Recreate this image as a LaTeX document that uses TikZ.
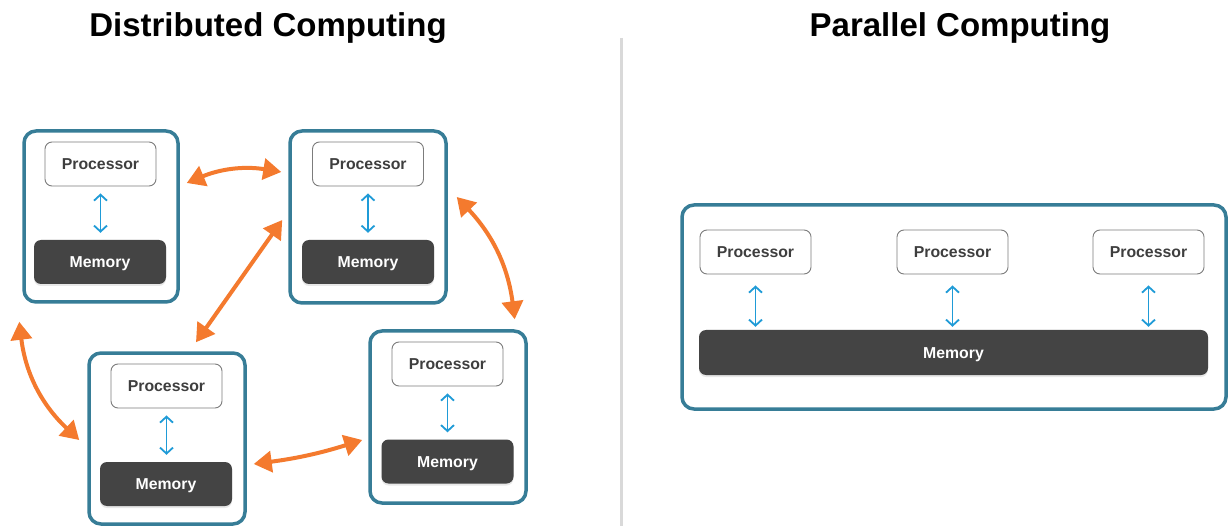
\documentclass[tikz,border=0pt]{standalone}
\usepackage{fontspec}
\setmainfont{Liberation Sans}
\usetikzlibrary{arrows.meta,calc,shadows}
\definecolor{frame}{HTML}{377D97}
\definecolor{procline}{HTML}{7C7C7C}
\definecolor{proctext}{HTML}{3E3E3E}
\definecolor{memfill}{HTML}{444444}
\definecolor{linkblue}{HTML}{1F9BD7}
\definecolor{netorange}{HTML}{F47A2E}
\definecolor{rule}{HTML}{D9D9D9}
\begin{document}
\begin{tikzpicture}[x=1pt,y=-1pt,
  unit/.style={draw=frame, line width=3.5pt, rounded corners=12pt, fill=white, inner sep=0},
  proc/.style={draw=procline, line width=0.9pt, rounded corners=7pt, fill=white,
    minimum width=111pt, minimum height=44pt, inner sep=0,
    text height=11pt, text depth=0pt,
    font=\bfseries\fontsize{15.8}{18}\selectfont, text=proctext},
  mem/.style={fill=memfill, rounded corners=7pt, minimum width=132pt, minimum height=44pt,
    inner sep=0, text=white, text height=11pt, text depth=0pt,
    font=\bfseries\fontsize{15.8}{18}\selectfont,
    drop shadow={opacity=0.18, shadow xshift=0pt, shadow yshift=-2pt}},
  link/.style={draw=linkblue, line width=1.8pt,
    {Straight Barb[length=6pt,width=13pt]}-{Straight Barb[length=6pt,width=13pt]}},
  net/.style={draw=netorange, line width=4pt,
    {Triangle[length=18pt,width=21pt]}-{Triangle[length=18pt,width=21pt]}},
  title/.style={font=\bfseries\fontsize{33}{38}\selectfont, text=black, anchor=base}]
\useasboundingbox (0,0) rectangle (1228,526);
\fill[white] (0,0) rectangle (1228,526);

% headings and separator
\node[title] (t1) at (268,37) {Distributed Computing};
\node[title] (t2) at (960,37) {Parallel Computing};
\draw[rule, line width=3pt] (621,38) -- (621,526);

% distributed: four independent machines
\node[unit, minimum width=154pt, minimum height=171pt] (A) at (101,216.5) {};
\node[unit, minimum width=156pt, minimum height=172pt] (B) at (368,217) {};
\node[unit, minimum width=156pt, minimum height=171pt] (C) at (167,438.5) {};
\node[unit, minimum width=156pt, minimum height=172pt] (D) at (448,417) {};

\node[proc] (PA) at (100.5,164) {Processor};
\node[mem]  (MA) at (100,262) {Memory};
\node[proc] (PB) at (368,164) {Processor};
\node[mem]  (MB) at (368,262) {Memory};
\node[proc] (PC) at (166.5,386) {Processor};
\node[mem]  (MC) at (166,484) {Memory};
\node[proc] (PD) at (447.5,364) {Processor};
\node[mem]  (MD) at (447.5,461.5) {Memory};

\foreach \p/\m in {PA/MA,PB/MB,PC/MC,PD/MD}
  \draw[link, shorten <=7pt, shorten >=7pt] (\p.south) -- (\p.south |- \m.north);

% network links between machines
\draw[net] ([shift={(7,-33.5)}]A.east) to[bend left=16] ([shift={(-7,-45)}]B.west);
\draw[net] ([shift={(-6,3)}]B.west) -- ([shift={(29,-9)}]C.north);
\draw[net] ([shift={(9,-20)}]B.east) to[bend left=18] ([shift={(-13,-10)}]D.north east);
\draw[net] ([shift={(-3,18)}]A.south west) to[bend right=20] ([shift={(-8,1.5)}]C.west);
\draw[net] ([shift={(7,25.5)}]C.east) to[bend right=5] ([shift={(-6,23)}]D.west);

% parallel: one machine, shared memory
\node[unit, minimum width=544pt, minimum height=204pt] (R) at (954,307) {};
\node[proc] (P1) at (755.5,252) {Processor};
\node[proc] (P2) at (952.5,252) {Processor};
\node[proc] (P3) at (1148.5,252) {Processor};
\node[mem, minimum width=509pt, minimum height=45pt] (M) at (953.5,352.5) {Memory};
\foreach \p in {P1,P2,P3}
  \draw[link, shorten <=11pt, shorten >=3pt] (\p.south) -- (\p.south |- M.north);
\end{tikzpicture}
\end{document}
